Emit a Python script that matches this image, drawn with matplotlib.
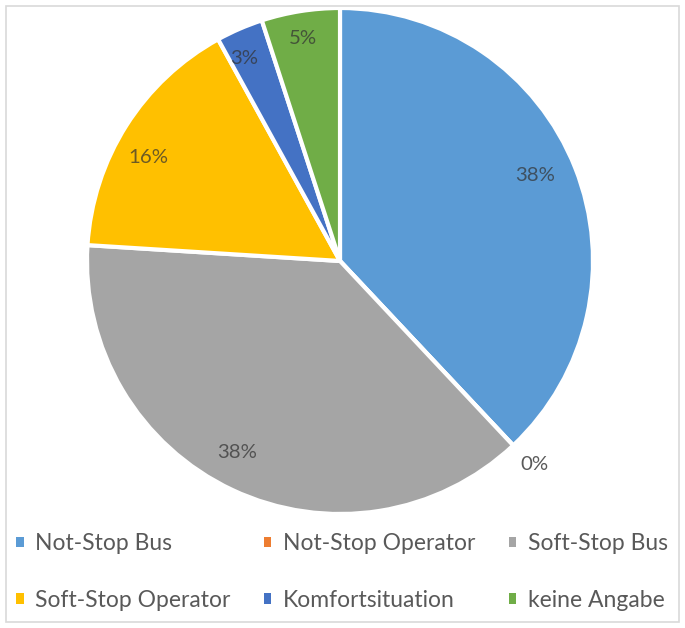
import matplotlib
matplotlib.use("Agg")
import matplotlib.pyplot as plt
from matplotlib.patches import Rectangle
import numpy as np

categories = ["Not-Stop Bus", "Not-Stop Operator", "Soft-Stop Bus",
              "Soft-Stop Operator", "Komfortsituation", "keine Angabe"]
values = [38, 0, 38, 16, 3, 5]
labels = ["38%", "0%", "38%", "16%", "3%", "5%"]
colors = ["#5B9BD5", "#ED7D31", "#A5A5A5", "#FFC000", "#4472C4", "#70AD47"]
# label placement tweaks (style): angular offset in degrees and radial distance
lab_dang = [2.2, 0.5, -3.1, 4.0, 2.0, 0.4]
lab_dist = [0.842, 1.115, 0.858, 0.862, 0.884, 0.893]

FONT = ['Lato', 'DejaVu Sans']
plt.rcParams['font.family'] = FONT
txt_color = "#595959"

W, H = 685, 628
fig = plt.figure(figsize=(W / 100, H / 100), dpi=100)
renderer = fig.canvas.get_renderer()


def fit_size(s, target_px, base=12):
    t = fig.text(0, 0, s, fontsize=base)
    w = t.get_window_extent(renderer).width
    t.remove()
    return base * target_px / w


leg_fs = fit_size("Not-Stop Bus", 136)
pct_fs = fit_size("38%", 40)

# frame
fig.patches.append(Rectangle((6 / W, 6 / H), 673 / W, 616 / H, transform=fig.transFigure,
                             fill=False, edgecolor="#D9D9D9", linewidth=1.2))

R = 253
cx, cy = 340, 261
ax = fig.add_axes([(cx - R) / W, (H - cy - R) / H, 2 * R / W, 2 * R / H])
wedges, _ = ax.pie(values, colors=colors, startangle=90, counterclock=False,
                   radius=1, wedgeprops=dict(edgecolor="white", linewidth=3))
ax.set_xlim(-1, 1)
ax.set_ylim(-1, 1)
ax.set_aspect("equal")
ax.axis("off")

total = sum(values)
ang = 90.0
for v, lab, da, d in zip(values, labels, lab_dang, lab_dist):
    span = 360.0 * v / total
    mid = np.deg2rad(ang - span / 2 + da)
    if v > 0:
        ax.text(d * np.cos(mid), d * np.sin(mid), lab, ha="center", va="center",
                fontsize=pct_fs, color="#333333", alpha=0.72)
    else:
        ax.text(d * np.cos(mid), d * np.sin(mid), lab, ha="center", va="center",
                fontsize=pct_fs, color=txt_color)
    ang -= span

order = [0, 3, 1, 4, 2, 5]
fs_px = leg_fs * 100 / 72
leg = fig.legend([wedges[i] for i in order], [categories[i] for i in order],
                 ncol=3, loc="center", bbox_to_anchor=(342 / W, 1 - 572 / H),
                 frameon=False, fontsize=leg_fs, labelcolor=txt_color,
                 handlelength=0.32, handleheight=0.32, handletextpad=0.5,
                 columnspacing=1.48, labelspacing=(58 - fs_px) / fs_px,
                 borderpad=0, borderaxespad=0)
for h in leg.legend_handles:
    h.set_edgecolor("none")

fig.savefig("out.png", dpi=100)
